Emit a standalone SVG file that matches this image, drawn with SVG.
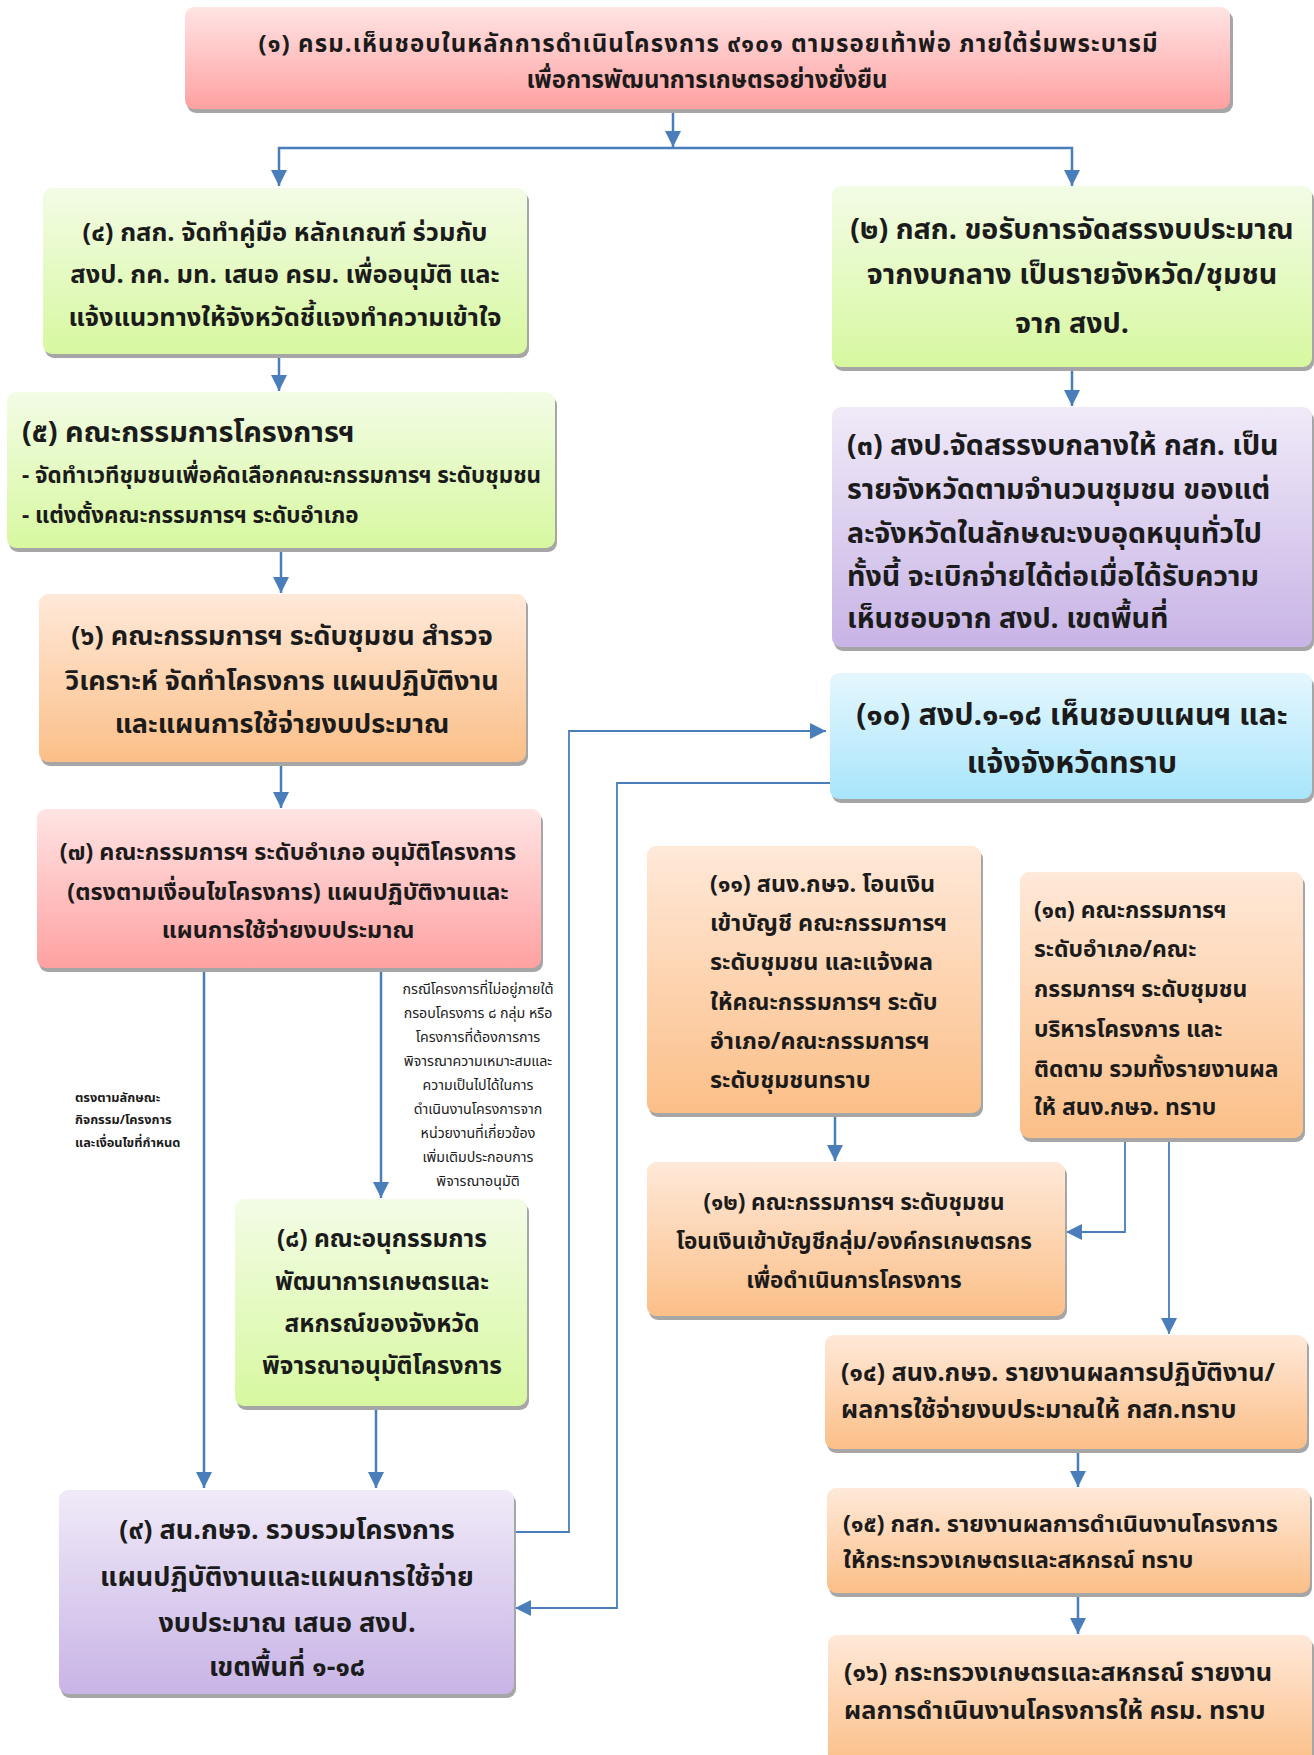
<svg xmlns="http://www.w3.org/2000/svg" width="1314" height="1755" viewBox="0 0 1314 1755">
<style>
text{font-family:"Noto Sans Thai","Noto Sans Thai Looped","Noto Sans","DejaVu Sans",sans-serif;fill:#1b1b1b;font-weight:bold}
.c{text-anchor:middle}
.s{fill:#a6a6a6}
.f1{font-size:24px}
.f2{font-size:27px}
.f3{font-size:23px}
.f4{font-size:22px}
.lbl{font-size:12.8px}
.lbn{font-size:14.2px;font-weight:normal}
.cn{fill:none;stroke:#4a7ebb;stroke-width:2.5}
.cn2{fill:none;stroke:#4a7ebb;stroke-width:1.8}
</style>
<defs>
<linearGradient id="gRed" x1="0" y1="0" x2="0" y2="1"><stop offset="0" stop-color="#ffe4e4"/><stop offset="1" stop-color="#ffa1a1"/></linearGradient>
<linearGradient id="gGreen" x1="0" y1="0" x2="0" y2="1"><stop offset="0" stop-color="#f3fce6"/><stop offset="1" stop-color="#d7f8a0"/></linearGradient>
<linearGradient id="gPurple" x1="0" y1="0" x2="0" y2="1"><stop offset="0" stop-color="#f0eaf8"/><stop offset="1" stop-color="#c8b4e6"/></linearGradient>
<linearGradient id="gOrange" x1="0" y1="0" x2="0" y2="1"><stop offset="0" stop-color="#ffe9d9"/><stop offset="1" stop-color="#fbbf88"/></linearGradient>
<linearGradient id="gCyan" x1="0" y1="0" x2="0" y2="1"><stop offset="0" stop-color="#e5f7fe"/><stop offset="1" stop-color="#a8e5fb"/></linearGradient>
<marker id="ah" markerUnits="userSpaceOnUse" markerWidth="16" markerHeight="16" viewBox="0 0 14 14" refX="14" refY="7" orient="auto"><path d="M0,0 L14,7 L0,14 z" fill="#4a7ebb"/></marker>
</defs>

<g id="connectors">
<path class="cn" d="M673,110 V147" marker-end="url(#ah)"/>
<path class="cn" d="M673,148 H279 V186" marker-end="url(#ah)"/>
<path class="cn" d="M673,148 H1072 V186" marker-end="url(#ah)"/>
<path class="cn" d="M279,356 V391" marker-end="url(#ah)"/>
<path class="cn" d="M281,551 V593" marker-end="url(#ah)"/>
<path class="cn" d="M281,764 V808" marker-end="url(#ah)"/>
<path class="cn" d="M204,968 V1488" marker-end="url(#ah)"/>
<path class="cn" d="M381,968 V1198" marker-end="url(#ah)"/>
<path class="cn" d="M376,1408 V1488" marker-end="url(#ah)"/>
<path class="cn2" d="M514,1532 H569 V731 H826" marker-end="url(#ah)"/>
<path class="cn2" d="M830,783 H617 V1608 H515" marker-end="url(#ah)"/>
<path class="cn" d="M1072,369 V406" marker-end="url(#ah)"/>
<path class="cn" d="M835,1117 V1161" marker-end="url(#ah)"/>
<path class="cn2" d="M1125,1110 V1232 H1066" marker-end="url(#ah)"/>
<path class="cn2" d="M1169,1110 V1334" marker-end="url(#ah)"/>
<path class="cn" d="M1078,1451 V1487" marker-end="url(#ah)"/>
<path class="cn" d="M1078,1595 V1634" marker-end="url(#ah)"/>
</g>

<g id="n1">
<rect class="s" x="187" y="11" width="1046" height="102" rx="9"/>
<rect x="185" y="7" width="1045" height="102" rx="9" fill="url(#gRed)"/>
<text class="c f1" x="708" y="52" textLength="899" lengthAdjust="spacing">(๑)  ครม.เห็นชอบในหลักการดำเนินโครงการ ๙๑๐๑ ตามรอยเท้าพ่อ ภายใต้ร่มพระบารมี</text>
<text class="c f1" x="707" y="88">เพื่อการพัฒนาการเกษตรอย่างยั่งยืน</text>
</g>

<g id="n4">
<rect class="s" x="45" y="192" width="484" height="166" rx="9"/>
<rect x="43" y="188" width="484" height="166" rx="9" fill="url(#gGreen)"/>
<text class="c" style="font-size:25.5px" x="285" y="241">(๔) กสก. จัดทำคู่มือ หลักเกณฑ์ ร่วมกับ</text>
<text class="c" style="font-size:25.5px" x="285" y="283">สงป. กค. มท. เสนอ ครม. เพื่ออนุมัติ และ</text>
<text class="c" style="font-size:25.5px" x="285" y="326">แจ้งแนวทางให้จังหวัดชี้แจงทำความเข้าใจ</text>
</g>

<g id="n2">
<rect class="s" x="834" y="190" width="480" height="181" rx="9"/>
<rect x="832" y="186" width="480" height="181" rx="9" fill="url(#gGreen)"/>
<text class="c" style="font-size:28.7px" x="1072" y="239">(๒) กสก. ขอรับการจัดสรรงบประมาณ</text>
<text class="c" style="font-size:28.7px" x="1072" y="284">จากงบกลาง เป็นรายจังหวัด/ชุมชน</text>
<text class="c" style="font-size:28.7px" x="1072" y="333">จาก สงป.</text>
</g>

<g id="n3">
<rect class="s" x="834" y="411" width="480" height="240" rx="9"/>
<rect x="832" y="407" width="480" height="240" rx="9" fill="url(#gPurple)"/>
<text style="font-size:28.6px" x="847" y="455">(๓) สงป.จัดสรรงบกลางให้ กสก. เป็น</text>
<text style="font-size:28.6px" x="847" y="499">รายจังหวัดตามจำนวนชุมชน ของแต่</text>
<text style="font-size:28.6px" x="847" y="543">ละจังหวัดในลักษณะงบอุดหนุนทั่วไป</text>
<text style="font-size:28.6px" x="847" y="586">ทั้งนี้ จะเบิกจ่ายได้ต่อเมื่อได้รับความ</text>
<text style="font-size:28.6px" x="847" y="628">เห็นชอบจาก สงป. เขตพื้นที่</text>
</g>

<g id="n5">
<rect class="s" x="9" y="396" width="548" height="156" rx="9"/>
<rect x="7" y="392" width="548" height="156" rx="9" fill="url(#gGreen)"/>
<text x="22" y="442" style="font-size:28.9px">(๕) คณะกรรมการโครงการฯ</text>
<text x="22" y="483" style="font-size:22.4px">- จัดทำเวทีชุมชนเพื่อคัดเลือกคณะกรรมการฯ ระดับชุมชน</text>
<text x="22" y="523" style="font-size:22.4px">- แต่งตั้งคณะกรรมการฯ ระดับอำเภอ</text>
</g>

<g id="n6">
<rect class="s" x="41" y="598" width="487" height="168" rx="9"/>
<rect x="39" y="594" width="487" height="168" rx="9" fill="url(#gOrange)"/>
<text class="c f2" x="282" y="645">(๖) คณะกรรมการฯ ระดับชุมชน สำรวจ</text>
<text class="c f2" x="282" y="690">วิเคราะห์ จัดทำโครงการ แผนปฏิบัติงาน</text>
<text class="c f2" x="282" y="733">และแผนการใช้จ่ายงบประมาณ</text>
</g>

<g id="n7">
<rect class="s" x="39" y="813" width="504" height="159" rx="9"/>
<rect x="37" y="809" width="504" height="159" rx="9" fill="url(#gRed)"/>
<text class="c" style="font-size:23.4px" x="288" y="860">(๗) คณะกรรมการฯ ระดับอำเภอ อนุมัติโครงการ</text>
<text class="c" style="font-size:23.4px" x="288" y="900">(ตรงตามเงื่อนไขโครงการ) แผนปฏิบัติงานและ</text>
<text class="c" style="font-size:23.4px" x="288" y="938">แผนการใช้จ่ายงบประมาณ</text>
</g>

<g id="label-left">
<text class="lbl" x="75" y="1102">ตรงตามลักษณะ</text>
<text class="lbl" x="75" y="1124">กิจกรรม/โครงการ</text>
<text class="lbl" x="75" y="1147">และเงื่อนไขที่กำหนด</text>
</g>

<g id="label-right">
<text class="c lbn" x="478" y="994">กรณีโครงการที่ไม่อยู่ภายใต้</text>
<text class="c lbn" x="478" y="1018">กรอบโครงการ ๘ กลุ่ม หรือ</text>
<text class="c lbn" x="478" y="1042">โครงการที่ต้องการการ</text>
<text class="c lbn" x="478" y="1066">พิจารณาความเหมาะสมและ</text>
<text class="c lbn" x="478" y="1090">ความเป็นไปได้ในการ</text>
<text class="c lbn" x="478" y="1114">ดำเนินงานโครงการจาก</text>
<text class="c lbn" x="478" y="1138">หน่วยงานที่เกี่ยวข้อง</text>
<text class="c lbn" x="478" y="1162">เพิ่มเติมประกอบการ</text>
<text class="c lbn" x="478" y="1186">พิจารณาอนุมัติ</text>
</g>

<g id="n8">
<rect class="s" x="237" y="1203" width="292" height="207" rx="9"/>
<rect x="235" y="1199" width="292" height="207" rx="9" fill="url(#gGreen)"/>
<text class="c" style="font-size:24.5px" x="382" y="1247">(๘) คณะอนุกรรมการ</text>
<text class="c" style="font-size:24.5px" x="382" y="1290">พัฒนาการเกษตรและ</text>
<text class="c" style="font-size:24.5px" x="382" y="1332">สหกรณ์ของจังหวัด</text>
<text class="c" style="font-size:24.5px" x="382" y="1374">พิจารณาอนุมัติโครงการ</text>
</g>

<g id="n9">
<rect class="s" x="61" y="1494" width="455" height="204" rx="9"/>
<rect x="59" y="1490" width="455" height="204" rx="9" fill="url(#gPurple)"/>
<text class="c f2" x="287" y="1539">(๙) สน.กษจ. รวบรวมโครงการ</text>
<text class="c f2" x="287" y="1586">แผนปฏิบัติงานและแผนการใช้จ่าย</text>
<text class="c f2" x="287" y="1632">งบประมาณ เสนอ สงป.</text>
<text class="c f2" x="287" y="1676">เขตพื้นที่ ๑-๑๘</text>
</g>

<g id="n10">
<rect class="s" x="832" y="677" width="482" height="126" rx="9"/>
<rect x="830" y="673" width="482" height="126" rx="9" fill="url(#gCyan)"/>
<text class="c" style="font-size:30.5px" x="1072" y="725">(๑๐) สงป.๑-๑๘ เห็นชอบแผนฯ และ</text>
<text class="c" style="font-size:30.5px" x="1072" y="773">แจ้งจังหวัดทราบ</text>
</g>

<g id="n11">
<rect class="s" x="649" y="850" width="334" height="267" rx="9"/>
<rect x="647" y="846" width="334" height="267" rx="9" fill="url(#gOrange)"/>
<text style="font-size:23.4px" x="710" y="892">(๑๑) สนง.กษจ. โอนเงิน</text>
<text style="font-size:23.4px" x="710" y="931">เข้าบัญชี คณะกรรมการฯ</text>
<text style="font-size:23.4px" x="710" y="970">ระดับชุมชน และแจ้งผล</text>
<text style="font-size:23.4px" x="710" y="1010">ให้คณะกรรมการฯ ระดับ</text>
<text style="font-size:23.4px" x="710" y="1049">อำเภอ/คณะกรรมการฯ</text>
<text style="font-size:23.4px" x="710" y="1088">ระดับชุมชนทราบ</text>
</g>

<g id="n13">
<rect class="s" x="1022" y="876" width="283" height="266" rx="9"/>
<rect x="1020" y="872" width="283" height="266" rx="9" fill="url(#gOrange)"/>
<text style="font-size:22.9px" x="1034" y="918">(๑๓) คณะกรรมการฯ</text>
<text style="font-size:22.9px" x="1034" y="957">ระดับอำเภอ/คณะ</text>
<text style="font-size:22.9px" x="1034" y="997">กรรมการฯ ระดับชุมชน</text>
<text style="font-size:22.9px" x="1034" y="1037">บริหารโครงการ และ</text>
<text style="font-size:22.9px" x="1034" y="1077">ติดตาม รวมทั้งรายงานผล</text>
<text style="font-size:22.9px" x="1034" y="1115">ให้ สนง.กษจ. ทราบ</text>
</g>

<g id="n12">
<rect class="s" x="649" y="1166" width="418" height="154" rx="9"/>
<rect x="647" y="1162" width="418" height="154" rx="9" fill="url(#gOrange)"/>
<text class="c" style="font-size:22.5px" x="854" y="1210">(๑๒) คณะกรรมการฯ ระดับชุมชน</text>
<text class="c" style="font-size:22.5px" x="854" y="1249">โอนเงินเข้าบัญชีกลุ่ม/องค์กรเกษตรกร</text>
<text class="c" style="font-size:22.5px" x="854" y="1288">เพื่อดำเนินการโครงการ</text>
</g>

<g id="n14">
<rect class="s" x="827" y="1339" width="482" height="114" rx="9"/>
<rect x="825" y="1335" width="482" height="114" rx="9" fill="url(#gOrange)"/>
<text style="font-size:25.2px" x="841" y="1381">(๑๔) สนง.กษจ. รายงานผลการปฏิบัติงาน/</text>
<text style="font-size:25.2px" x="841" y="1418">ผลการใช้จ่ายงบประมาณให้ กสก.ทราบ</text>
</g>

<g id="n15">
<rect class="s" x="829" y="1492" width="483" height="105" rx="9"/>
<rect x="827" y="1488" width="483" height="105" rx="9" fill="url(#gOrange)"/>
<text style="font-size:23.5px" x="843" y="1532">(๑๕) กสก. รายงานผลการดำเนินงานโครงการ</text>
<text style="font-size:23.5px" x="843" y="1568">ให้กระทรวงเกษตรและสหกรณ์ ทราบ</text>
</g>

<g id="n16">
<rect class="s" x="830" y="1639" width="484" height="130" rx="9"/>
<rect x="828" y="1635" width="484" height="130" rx="9" fill="url(#gOrange)"/>
<text style="font-size:25.3px" x="844" y="1681">(๑๖) กระทรวงเกษตรและสหกรณ์ รายงาน</text>
<text style="font-size:25.3px" x="844" y="1719">ผลการดำเนินงานโครงการให้ ครม. ทราบ</text>
</g>
</svg>
